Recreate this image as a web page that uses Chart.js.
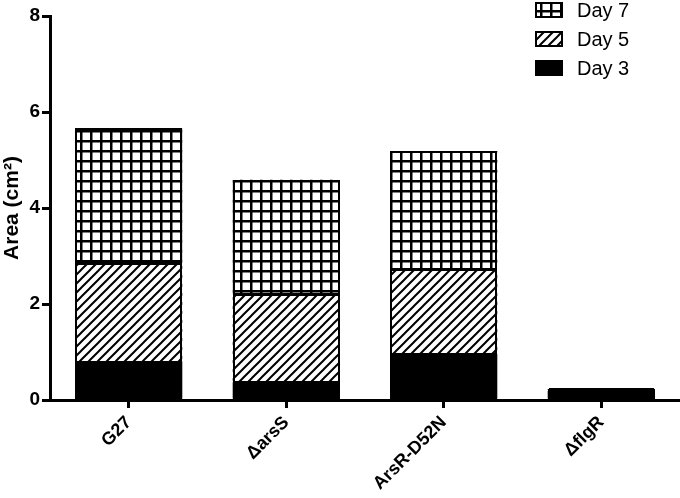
<!DOCTYPE html>
<html>
<head>
<meta charset="utf-8">
<script src="https://cdn.jsdelivr.net/npm/chart.js@4.4.1/dist/chart.umd.min.js"></script>
<style>
  html, body { margin: 0; padding: 0; background: #fff; }
  #wrap { width: 680px; height: 498px; }
</style>
</head>
<body>
<div id="wrap"><canvas id="chart" width="680" height="498"></canvas></div>
<script>
// data
const strains = ['G27', '\u0394arsS', 'ArsR-D52N', '\u0394flgR'];
const day3 = [0.80, 0.37, 0.96, 0.19];
const day5 = [2.05, 1.83, 1.76, 0.04];
const day7 = [2.81, 2.39, 2.47, 0.02];
const seriesNames = ['Day 3', 'Day 5', 'Day 7'];
const yTicks = [0, 2, 4, 6, 8];

const FONT = '"Liberation Sans", Arial, sans-serif';
const ctx = document.getElementById('chart').getContext('2d');

// fill patterns
function gridPattern() {
  const c = document.createElement('canvas');
  c.width = 10; c.height = 10;
  const g = c.getContext('2d');
  g.fillStyle = '#fff'; g.fillRect(0, 0, 10, 10);
  g.fillStyle = '#000';
  g.fillRect(0, 0, 10, 2.5);
  g.fillRect(0, 0, 2.5, 10);
  return ctx.createPattern(c, 'repeat');
}
function hatchPattern() {
  const s = 9;
  const c = document.createElement('canvas');
  c.width = s; c.height = s;
  const g = c.getContext('2d');
  g.fillStyle = '#fff'; g.fillRect(0, 0, s, s);
  g.strokeStyle = '#000'; g.lineWidth = 2;
  g.beginPath();
  g.moveTo(-1, s + 1); g.lineTo(s + 1, -1);
  g.moveTo(-1, 1); g.lineTo(1, -1);
  g.moveTo(s - 1, s + 1); g.lineTo(s + 1, s - 1);
  g.stroke();
  return ctx.createPattern(c, 'repeat');
}

const fills = ['#000', hatchPattern(), gridPattern()];

// crisp black outline round every bar segment
const outlinePlugin = {
  id: 'barOutline',
  afterDatasetsDraw(chart) {
    const c = chart.ctx;
    c.save();
    c.strokeStyle = '#000';
    c.lineWidth = 2;
    chart.data.datasets.forEach((ds, i) => {
      chart.getDatasetMeta(i).data.forEach(bar => {
        const left = Math.round(bar.x - bar.width / 2);
        const right = Math.round(bar.x + bar.width / 2);
        const top = Math.round(Math.min(bar.y, bar.base));
        const bottom = Math.round(Math.max(bar.y, bar.base));
        c.strokeRect(left + 1, top + 1, right - left - 2, bottom - top - 1);
      });
    });
    c.restore();
  }
};

// legend drawn top right, Day 7 first
const legendPlugin = {
  id: 'cornerLegend',
  afterDraw(chart) {
    const c = chart.ctx;
    const sets = chart.data.datasets.slice().reverse();
    c.save();
    sets.forEach((ds, i) => {
      const y = 2 + i * 29;
      c.fillStyle = ds.backgroundColor;
      c.fillRect(535, y, 28, 16);
      c.strokeStyle = '#000'; c.lineWidth = 2;
      c.strokeRect(536, y + 1, 26, 14);
      c.fillStyle = '#000';
      c.font = '20px ' + FONT;
      c.textBaseline = 'middle';
      c.fillText(ds.label, 577, y + 9);
    });
    c.restore();
  }
};

const dataSets = [day3, day5, day7].map((vals, i) => ({
  label: seriesNames[i],
  data: vals,
  backgroundColor: fills[i],
  borderWidth: 0,
  categoryPercentage: 1,
  barPercentage: 0.68
}));

new Chart(ctx, {
  type: 'bar',
  data: { labels: strains, datasets: dataSets },
  plugins: [outlinePlugin, legendPlugin],
  options: {
    responsive: false,
    animation: false,
    devicePixelRatio: 1,
    layout: { padding: { top: 16, right: 0, left: 0, bottom: 0 } },
    plugins: { legend: { display: false }, tooltip: { enabled: false } },
    scales: {
      x: {
        stacked: true,
        afterFit(scale) { scale.height = 98; },
        grid: { display: true, offset: false, drawOnChartArea: false, tickLength: 8, lineWidth: 3, color: '#000' },
        border: { display: true, width: 3, color: '#000' },
        ticks: {
          color: '#000', maxRotation: 45, minRotation: 45, padding: 4,
          font: { family: FONT, size: 18, weight: 'bold' }
        }
      },
      y: {
        stacked: true,
        min: 0, max: 8,
        afterFit(scale) { scale.width = 50; },
        afterBuildTicks(scale) { scale.ticks = yTicks.map(v => ({ value: v })); },
        grid: { display: true, drawOnChartArea: false, tickLength: 8, lineWidth: 3, color: '#000' },
        border: { display: true, width: 3, color: '#000' },
        ticks: {
          color: '#000', padding: 2,
          font: { family: FONT, size: 19, weight: 'bold' }
        },
        title: {
          display: true, text: 'Area (cm\u00b2)', color: '#000', padding: { top: 0, bottom: 0 },
          font: { family: FONT, size: 21, weight: 'bold' }
        }
      }
    }
  }
});
</script>
</body>
</html>
